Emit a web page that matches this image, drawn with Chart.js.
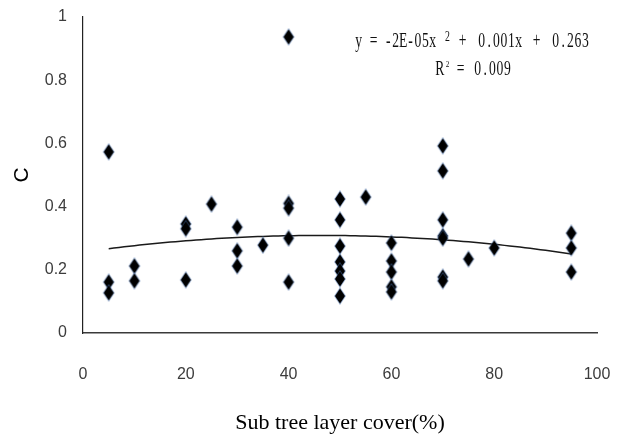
<!DOCTYPE html>
<html><head><meta charset="utf-8">
<style>html,body{margin:0;padding:0;background:#fff}#wrap{width:617px;height:441px;position:relative}</style>
<script src="https://cdn.jsdelivr.net/npm/chart.js@4.4.1/dist/chart.umd.min.js"></script>
</head><body><div id="wrap"><canvas id="c" width="617" height="441"></canvas></div>
<script>
// ---- data ----
const xCover = [5,5,5, 10,10, 20,20,20, 25, 30,30,30, 35, 40,40,40,40,40,
  50,50,50,50,50,50,50, 55, 60,60,60,60,60, 70,70,70,70,70,70,70, 75, 80, 95,95,95];
const cValues = [0.573,0.161,0.127, 0.212,0.165, 0.345,0.330,0.168, 0.408, 0.335,0.260,0.212, 0.278,
  0.937,0.410,0.395,0.300,0.161,
  0.424,0.358,0.275,0.225,0.196,0.171,0.117, 0.430, 0.285,0.228,0.193,0.146,0.130,
  0.592,0.513,0.358,0.307,0.300,0.177,0.165, 0.234, 0.269, 0.316,0.269,0.193];
const xTicks = [0,20,40,60,80,100];
const yTicks = [0,0.2,0.4,0.6,0.8,1];
const xTitle = 'Sub tree layer cover(%)';
const yTitle = 'C';
const eqLine1 = [['y = -2E-05x', 355, 0], ['2', 444, 1], ['+', 459, 0], ['0.001x', 478, 0], ['+', 533, 0], ['0.263', 552, 0]];
const eqLine2 = [['R', 436, 0], ['2', 445, 2], ['=', 457, 0], ['0.009', 474, 0]];

// ---- quadratic least-squares trendline from the data ----
function fitQuadratic(xs, ys){
  const S = [[0,0,0],[0,0,0],[0,0,0]], T=[0,0,0];
  for(let i=0;i<xs.length;i++){
    const p=[1,xs[i],xs[i]*xs[i]];
    for(let r=0;r<3;r++){ T[r]+=p[r]*ys[i]; for(let c=0;c<3;c++) S[r][c]+=p[r]*p[c]; }
  }
  const M = S.map((row,i)=>row.concat([T[i]]));
  for(let i=0;i<3;i++){
    let piv=i; for(let k=i+1;k<3;k++) if(Math.abs(M[k][i])>Math.abs(M[piv][i])) piv=k;
    [M[i],M[piv]]=[M[piv],M[i]];
    for(let k=0;k<3;k++){ if(k===i) continue; const f=M[k][i]/M[i][i]; for(let c=i;c<4;c++) M[k][c]-=f*M[i][c]; }
  }
  return [M[0][3]/M[0][0], M[1][3]/M[1][1], M[2][3]/M[2][2]];
}
const coef = fitQuadratic(xCover, cValues);
const xMin = Math.min(...xCover), xMax = Math.max(...xCover);
const trend = [];
for(let x=xMin; x<=xMax; x+=1) trend.push({x, y: coef[0]+coef[1]*x+coef[2]*x*x});

const points = xCover.map((x,i)=>({x, y:cValues[i]}));

// diamond marker
const mk = document.createElement('canvas');
mk.width = 14; mk.height = 18;
(function(){
  const g = mk.getContext('2d');
  g.beginPath(); g.moveTo(7,1.5); g.lineTo(12,9); g.lineTo(7,16.5); g.lineTo(2,9); g.closePath();
  g.strokeStyle='rgba(70,110,170,0.55)'; g.lineWidth=1.6; g.stroke();
  g.fillStyle='#000'; g.fill();
})();

function drawMono(ctx, segs, baseline){
  const cell = 7.4;
  segs.forEach(([txt, x0, kind])=>{
    let size = 22, dy = 0, sx = 0.62;
    if(kind===1){ size = 14; dy = -6; sx = 0.7; }
    if(kind===2){ size = 9; dy = -8; sx = 0.8; }
    const c = kind===1 ? 7 : (kind===2 ? 5 : cell);
    ctx.font = size + 'px "Liberation Serif", serif';
    for(let i=0;i<txt.length;i++){
      ctx.save();
      ctx.translate(x0 + c*i + c/2, baseline + dy);
      ctx.scale(sx, 1);
      ctx.textAlign='center'; ctx.textBaseline='alphabetic';
      ctx.fillText(txt[i], 0, 0);
      ctx.restore();
    }
  });
}
const eqPlugin = {
  id:'eq',
  afterDraw(chart){
    const ctx = chart.ctx;
    ctx.save(); ctx.fillStyle='#111';
    drawMono(ctx, eqLine1, 47);
    drawMono(ctx, eqLine2, 75);
    ctx.restore();
  }
};

const tickFont = { family:'"Liberation Sans Narrow", "Liberation Sans", sans-serif', size:16 };

new Chart(document.getElementById('c'), {
  type:'scatter',
  data:{ datasets:[
    { type:'scatter', data: points, pointStyle: mk, pointRadius: 7, pointHoverRadius:7, order: 1 },
    { type:'line', data: trend, borderColor:'#1a1a1a', borderWidth:1.5, pointRadius:0, tension:0, fill:false, order: 2 }
  ]},
  options:{
    responsive:false, animation:false, devicePixelRatio:1,
    layout:{ padding:{ left:0, right:20, top:17, bottom:0 } },
    plugins:{ legend:{display:false}, tooltip:{enabled:false} },
    scales:{
      x:{ type:'linear', min:0, max:100,
        afterBuildTicks(s){ s.ticks = xTicks.map(v=>({value:v})); },
        afterFit(s){ s.height = 108; },
        grid:{ display:false, drawTicks:true, tickLength:27 },
        border:{ display:true, color:'#3a3a3a', width:1.6 },
        ticks:{ padding:5, color:'#3c3c3c', font:tickFont, maxRotation:0, callback:v=>String(v) },
        title:{ display:true, text:xTitle, color:'#000', font:{ family:'"Liberation Serif", serif', size:22 }, padding:{ top:0, bottom:5 } }
      },
      y:{ type:'linear', min:0, max:1,
        afterBuildTicks(s){ s.ticks = yTicks.map(v=>({value:v})); },
        afterFit(s){ s.width = 83; },
        grid:{ display:false, drawTicks:true, tickLength:12 },
        border:{ display:true, color:'#222', width:1.2 },
        ticks:{ padding:4, color:'#3c3c3c', font:tickFont, callback:v=>String(+v.toFixed(1)) },
        title:{ display:true, text:yTitle, color:'#000', font:{ family:'"Liberation Sans", sans-serif', size:21 }, padding:{ top:10, bottom:0 } }
      }
    }
  },
  plugins:[eqPlugin]
});
</script></body></html>
